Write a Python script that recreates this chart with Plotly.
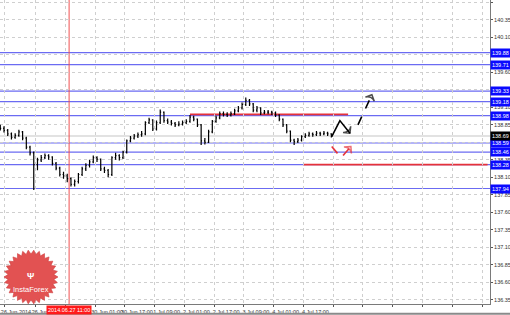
import numpy as np
import plotly.graph_objects as go

# ---------------- data ----------------
# hour index (weekend removed), 2-hour bars starting at 26 Jun 2014 - 2h
bar_hours = list(range(-2, 178, 2))
opens = [138.82,138.80,138.77,138.72,138.67,138.70,138.75,138.66,138.53,138.45,
         138.28,138.35,138.38,138.41,138.39,138.30,138.23,138.14,138.12,138.08,
         138.00,138.04,138.14,138.22,138.27,138.32,138.38,138.36,138.22,138.20,
         138.14,138.38,138.41,138.38,138.46,138.62,138.66,138.69,138.71,138.72,
         138.88,138.92,138.79,138.88,139.03,138.91,138.89,138.87,138.85,138.86,
         138.88,138.90,138.96,138.93,138.85,138.62,138.60,138.75,138.90,138.95,
         139.01,139.00,138.99,139.01,139.05,139.09,139.14,139.20,139.15,139.06,
         139.09,139.02,139.03,139.03,139.02,138.99,138.93,138.85,138.76,138.63,
         138.61,138.63,138.68,138.70,138.72,138.71,138.73,138.72,138.73,138.72]
closes = [138.80,138.77,138.72,138.67,138.70,138.75,138.66,138.53,138.45,138.28,
          138.35,138.38,138.41,138.39,138.30,138.23,138.14,138.12,138.08,138.00,
          138.04,138.14,138.22,138.27,138.32,138.38,138.36,138.22,138.20,138.14,
          138.38,138.41,138.38,138.46,138.62,138.66,138.69,138.71,138.72,138.88,
          138.92,138.79,138.88,139.03,138.91,138.89,138.87,138.85,138.86,138.88,
          138.90,138.96,138.93,138.85,138.62,138.60,138.75,138.90,138.95,139.01,
          139.00,138.99,139.01,139.05,139.09,139.14,139.20,139.15,139.06,139.09,
          139.02,139.03,139.03,139.02,138.99,138.93,138.85,138.76,138.63,138.61,
          138.63,138.68,138.70,138.72,138.71,138.73,138.72,138.73,138.72,138.69]
highs = [138.85,138.83,138.79,138.74,138.73,138.78,138.76,138.68,138.55,138.47,
         138.38,138.42,138.44,138.43,138.40,138.32,138.25,138.18,138.15,138.10,
         138.07,138.16,138.25,138.30,138.35,138.41,138.40,138.37,138.25,138.22,
         138.40,138.45,138.43,138.48,138.64,138.69,138.72,138.74,138.76,138.90,
         138.95,138.93,138.91,139.07,139.04,138.94,138.92,138.89,138.90,138.91,
         138.93,138.99,138.98,138.94,138.86,138.66,138.78,138.92,138.98,139.04,
         139.04,139.03,139.04,139.08,139.12,139.17,139.24,139.22,139.16,139.12,
         139.10,139.06,139.06,139.05,139.04,139.00,138.94,138.86,138.77,138.65,
         138.66,138.70,138.73,138.75,138.74,138.76,138.75,138.76,138.75,138.73]
lows = [138.77,138.74,138.69,138.64,138.65,138.68,138.63,138.50,138.41,137.92,
        138.20,138.32,138.36,138.35,138.27,138.20,138.11,138.08,138.03,137.97,
        137.97,138.01,138.12,138.19,138.24,138.30,138.32,138.19,138.16,138.10,
        138.12,138.35,138.34,138.36,138.44,138.60,138.64,138.66,138.68,138.70,
        138.86,138.76,138.77,138.86,138.88,138.86,138.84,138.82,138.83,138.84,
        138.86,138.88,138.90,138.82,138.56,138.57,138.59,138.73,138.88,138.93,
        138.97,138.96,138.97,138.99,139.03,139.07,139.12,139.12,139.03,139.03,
        138.99,139.00,139.00,138.99,138.96,138.90,138.82,138.73,138.60,138.56,
        138.59,138.61,138.66,138.68,138.68,138.69,138.69,138.70,138.69,138.67]

blue_levels = [139.88, 139.71, 139.33, 139.18, 138.98, 138.59, 138.46, 138.28, 137.94]
current_price = 138.69
red_upper = {"price": 139.00, "start": 100, "end": 185}
red_lower = {"price": 138.28, "start": 161, "end": 260}
crosshair_hour = 35
crosshair_label = "2014.06.27 11:00"

y_ticks = [136.35, 136.60, 136.85, 137.10, 137.35, 137.60, 137.85, 138.10, 138.35,
           138.60, 138.85, 139.10, 139.35, 139.60, 139.85, 140.10, 140.35, 140.60]
# tick labels hidden behind the level tags in the reference
y_hidden = [138.60, 139.35, 139.85]
x_tick_hours = [0, 17, 33, 49, 65, 81, 97, 113, 129, 145, 161, 177, 193, 209, 225, 241, 257]
x_tick_labels = ["26 Jun 2014", "26 Jun 17:00", "", "30 Jun 01:00", "30 Jun 17:00",
                 "1 Jul 09:00", "2 Jul 01:00", "2 Jul 17:00", "3 Jul 09:00", "4 Jul 01:00",
                 "4 Jul 17:00", "", "", "", "", "", ""]

# forecast sketch (hour, price)
black_path_x = [176.2, 180.6, 186.0]
black_path_y = [138.68, 138.91, 138.73]
black_dash_x = [190.3, 197.8]
black_dash_y = [138.85, 139.28]
red_path1_x = [176.2, 181.6]
red_path1_y = [138.54, 138.37]
red_path2_x = [182.3, 186.5]
red_path2_y = [138.41, 138.54]

X_RANGE = [-2.15, 261.3]
Y_RANGE = [136.29, 140.633]
BLUE = "#6b6bf2"
RED = "#e5323a"
FONT = "Liberation Sans"

fig = go.Figure()

# levels
for lv in blue_levels:
    fig.add_shape(type="line", xref="paper", x0=0, x1=1, y0=lv, y1=lv,
                  line=dict(color=BLUE, width=1.2), layer="below")
fig.add_shape(type="line", xref="paper", x0=0, x1=1, y0=current_price, y1=current_price,
              line=dict(color="#d8d8d8", width=1.5), layer="below")
for r in (red_upper, red_lower):
    fig.add_shape(type="line", x0=r["start"], x1=r["end"], y0=r["price"], y1=r["price"],
                  line=dict(color=RED, width=1.8), layer="below")
fig.add_shape(type="line", x0=crosshair_hour, x1=crosshair_hour, yref="paper", y0=0, y1=1,
              line=dict(color="#f05050", width=1), layer="below")

fig.add_trace(go.Ohlc(
    x=bar_hours, open=opens, high=highs, low=lows, close=closes,
    increasing=dict(line=dict(color="#000000", width=1.2)),
    decreasing=dict(line=dict(color="#000000", width=1.2)),
    tickwidth=0.25, showlegend=False, hoverinfo="skip"))

def sketch(xs, ys, color, dash, head):
    n = len(xs)
    fig.add_trace(go.Scatter(
        x=xs, y=ys, mode="lines+markers",
        line=dict(color=color, width=1.6, dash=dash),
        marker=dict(symbol=["circle"] * (n - 1) + ["arrow-wide-open"],
                    size=[0] * (n - 1) + ([7] if head else [0]),
                    angleref="previous", color=color,
                    line=dict(color=color, width=1.5)),
        showlegend=False, hoverinfo="skip"))

sketch(black_path_x, black_path_y, "#000000", "solid", True)
sketch(black_dash_x, black_dash_y, "#000000", "dash", True)
sketch(red_path1_x, red_path1_y, RED, "dash", False)
sketch(red_path2_x, red_path2_y, RED, "dash", True)

# price labels on the right
for lv in blue_levels:
    fig.add_annotation(xref="paper", x=1, xanchor="left", xshift=0, y=lv, yanchor="middle",
                       text=f"{lv:.2f}", showarrow=False, bgcolor="#0a0aff",
                       font=dict(color="white", size=5.5, family=FONT), borderpad=1)
fig.add_annotation(xref="paper", x=1, xanchor="left", y=current_price, yanchor="middle",
                   text=f"{current_price:.2f}", showarrow=False, bgcolor="#000000",
                   font=dict(color="white", size=5.5, family=FONT), borderpad=1)
fig.add_annotation(x=crosshair_hour, yref="paper", y=0, yanchor="top", yshift=-1,
                   xanchor="center",
                   text=crosshair_label, showarrow=False, bgcolor="#ff1a1a",
                   font=dict(color="white", size=5.5, family=FONT), borderpad=1)

# InstaForex badge (decorative)
W_PLOT, H_PLOT = 490.0, 304.0
cx, cy, r_out, r_in, n_pts = 31.0, 277.0, 27.0, 23.0, 30
ang = np.linspace(0, 2 * np.pi, 2 * n_pts, endpoint=False)
rad = np.where(np.arange(2 * n_pts) % 2 == 0, r_out, r_in)
px = cx + rad * np.cos(ang)
py = cy + rad * np.sin(ang)
path = "M " + " L ".join(f"{x / W_PLOT:.5f},{1 - y / H_PLOT:.5f}" for x, y in zip(px, py)) + " Z"
fig.add_shape(type="path", xref="paper", yref="paper", path=path,
              fillcolor="#e25252", line=dict(color="#cf3d3d", width=0.6), layer="above")
fig.add_annotation(xref="paper", yref="paper", x=cx / W_PLOT, y=1 - 289 / H_PLOT,
                   xanchor="center", yanchor="middle",
                   text="InstaForex", showarrow=False,
                   font=dict(color="white", size=7.5, family=FONT))
fig.add_annotation(xref="paper", yref="paper", x=cx / W_PLOT, y=1 - 276 / H_PLOT,
                   xanchor="center", yanchor="middle",
                   text="<b>Ψ</b>", showarrow=False,
                   font=dict(color="white", size=9, family=FONT))

# bottom window edge
fig.add_shape(type="line", xref="paper", yref="paper", x0=0, x1=1.05, y0=-0.032, y1=-0.032,
              line=dict(color="#8a8a8a", width=2))

fig.update_layout(
    width=510, height=315, margin=dict(l=0, r=20, t=0, b=11),
    paper_bgcolor="white", plot_bgcolor="white",
    xaxis=dict(range=X_RANGE, tickmode="array", tickvals=x_tick_hours, ticktext=x_tick_labels,
               tickangle=0,
               showgrid=True, gridcolor="#cfcfcf", griddash="dot", gridwidth=1,
               zeroline=False, showline=True, linecolor="#7a7a7a", linewidth=1,
               ticks="outside", ticklen=2, tickcolor="#555555",
               tickfont=dict(size=5.5, family=FONT, color="#333333"),
               ticklabelshift=12, ticklabelstandoff=0,
               rangeslider=dict(visible=False), fixedrange=True),
    yaxis=dict(range=Y_RANGE, side="right", tickmode="array", tickvals=y_ticks,
               ticktext=["" if v in y_hidden else f"{v:.2f}" for v in y_ticks],
               showgrid=True, gridcolor="#cfcfcf", griddash="dot", gridwidth=1,
               zeroline=False, showline=True, linecolor="#7a7a7a", linewidth=1,
               ticks="outside", ticklen=2, tickcolor="#555555",
               tickfont=dict(size=5.5, family=FONT, color="#333333"), fixedrange=True),
)

fig.write_html("out.html")
